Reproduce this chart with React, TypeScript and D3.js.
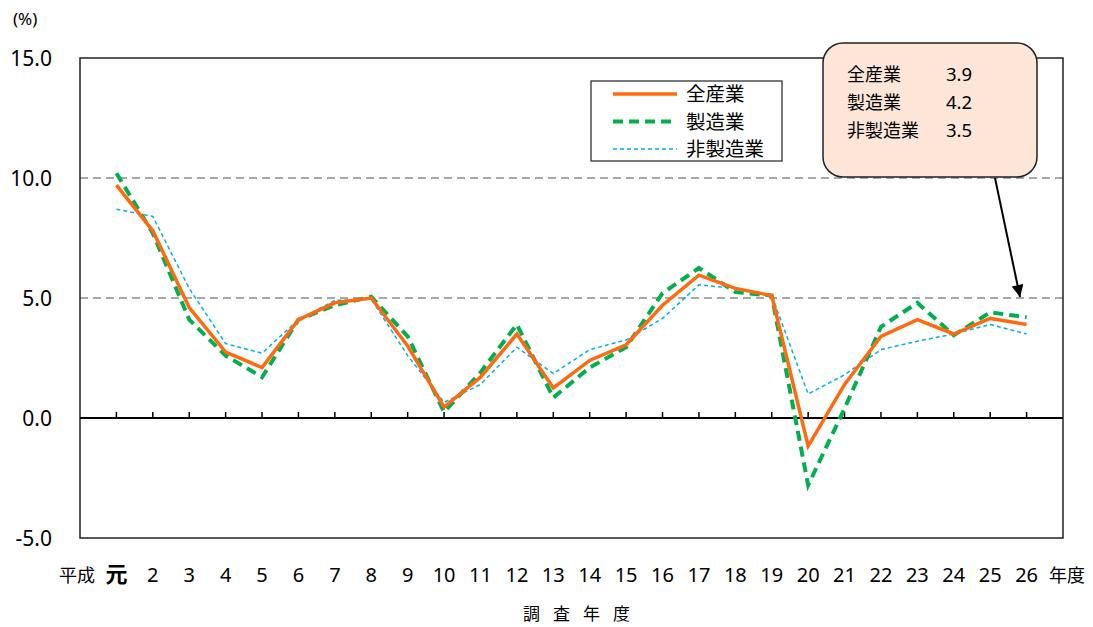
import React from 'react';
import * as d3 from 'd3';

const years = ['元', '2', '3', '4', '5', '6', '7', '8', '9', '10', '11', '12', '13', '14', '15', '16', '17', '18', '19', '20', '21', '22', '23', '24', '25', '26'];
const allIndustry = [9.7, 7.8, 4.6, 2.75, 2.1, 4.1, 4.8, 5.0, 3.0, 0.45, 1.7, 3.5, 1.25, 2.4, 3.05, 4.7, 5.95, 5.4, 5.1, -1.17, 1.4, 3.4, 4.1, 3.5, 4.15, 3.9];
const manufacturing = [10.2, 7.7, 4.1, 2.6, 1.7, 4.1, 4.7, 5.05, 3.4, 0.25, 1.9, 3.9, 0.85, 2.1, 2.95, 5.2, 6.25, 5.25, 5.1, -2.8, 0.4, 3.8, 4.8, 3.45, 4.4, 4.2];
const nonManufacturing = [8.7, 8.4, 5.4, 3.1, 2.7, 4.1, 4.9, 4.95, 2.6, 0.65, 1.4, 2.95, 1.85, 2.85, 3.25, 4.15, 5.55, 5.4, 5.1, 1.0, 1.8, 2.85, 3.2, 3.5, 3.9, 3.5];
const yTicks = [15, 10, 5, 0, -5];
const calloutRows = [['全産業', '3.9'], ['製造業', '4.2'], ['非製造業', '3.5']];

const font = '"Noto Sans CJK JP", "Noto Sans", sans-serif';
const numFont = '"Noto Sans", sans-serif';

const series = [
  { name: '全産業', values: allIndustry, color: '#ff6a10', width: 3.5, dash: null },
  { name: '製造業', values: manufacturing, color: '#00b050', width: 4, dash: '10,6' },
  { name: '非製造業', values: nonManufacturing, color: '#00b0f0', width: 1.5, dash: '4,3' },
];

export default function App() {
  const left = 80, right = 1063, top = 58, bottom = 538;

  const x = d3.scalePoint<string>().domain(years).range([left, right]).padding(1);
  const y = d3.scaleLinear().domain([-5, 15]).range([bottom, top]);

  const line = d3.line<number>()
    .x((_, i) => x(years[i]) as number)
    .y(d => y(d));

  return (
    <svg width={1093} height={627} style={{ position: 'absolute', left: 0, top: 0, fontFamily: font }}>
      <rect width={1093} height={627} fill="#fff" />

      {/* gridlines */}
      {[10, 5].map(t => (
        <line key={t} x1={left} x2={right} y1={y(t)} y2={y(t)} stroke="#8c8c8c" strokeWidth={1.5} strokeDasharray="8,5" />
      ))}

      {/* frame */}
      <rect x={left} y={top} width={right - left} height={bottom - top} fill="none" stroke="#222" strokeWidth={1.5} />

      {/* zero axis + ticks */}
      <line x1={left} x2={right} y1={y(0)} y2={y(0)} stroke="#000" strokeWidth={2} />
      {years.map(yr => (
        <line key={yr} x1={x(yr)} x2={x(yr)} y1={y(0)} y2={y(0) - 6} stroke="#000" strokeWidth={1.5} />
      ))}

      {/* y labels */}
      {yTicks.map(t => (
        <text key={t} x={52} y={y(t) + 7.5} textAnchor="end" fontSize={21} fontFamily={numFont} fill="#000">{t.toFixed(1)}</text>
      ))}
      <text x={13} y={25} fontSize={17} fontFamily={numFont} fill="#000">(%)</text>

      {/* x labels */}
      <text x={77} y={582} textAnchor="middle" fontSize={18} fill="#000">平成</text>
      {years.map(yr => (
        <text key={yr} x={x(yr)} y={582} textAnchor="middle" fontSize={yr === '元' ? 22 : 20}
          fontFamily={yr === '元' ? font : numFont} fontWeight={yr === '元' ? 'bold' : 'normal'} fill="#000">{yr}</text>
      ))}
      <text x={1067} y={582} textAnchor="middle" fontSize={18} fill="#000">年度</text>
      <text x={583} y={620} textAnchor="middle" fontSize={17} letterSpacing={13} fill="#000">調査年度</text>

      {/* lines */}
      {series.map(s => (
        <path key={s.name} d={line(s.values) || ''} fill="none" stroke={s.color} strokeWidth={s.width}
          strokeDasharray={s.dash || undefined} strokeLinejoin="miter" />
      )).reverse()}

      {/* legend */}
      <rect x={591} y={81} width={191} height={80} fill="#fff" stroke="#222" strokeWidth={1.2} />
      {series.map((s, i) => (
        <g key={s.name}>
          <line x1={613} x2={677} y1={94 + i * 27.5} y2={94 + i * 27.5} stroke={s.color} strokeWidth={s.width}
            strokeDasharray={s.dash || undefined} />
          <text x={686} y={94 + i * 27.5 + 7} fontSize={19.5} fill="#000">{s.name}</text>
        </g>
      ))}

      {/* callout */}
      <defs>
        <marker id="arrow" viewBox="0 0 10 10" refX={10} refY={5} markerWidth={7} markerHeight={6} orient="auto">
          <path d="M0,0 L10,5 L0,10 z" fill="#000" />
        </marker>
      </defs>
      <line x1={995} y1={178} x2={1020} y2={297} stroke="#000" strokeWidth={2} markerEnd="url(#arrow)" />
      <rect x={823} y={43} width={214} height={134} rx={20} fill="#fde6d8" stroke="#222" strokeWidth={1.5} />
      {calloutRows.map((r, i) => (
        <g key={r[0]}>
          <text x={847} y={81 + i * 28} fontSize={18} fill="#000">{r[0]}</text>
          <text x={946} y={81 + i * 28} fontSize={18.5} fontFamily={numFont} fill="#000">{r[1]}</text>
        </g>
      ))}
    </svg>
  );
}
